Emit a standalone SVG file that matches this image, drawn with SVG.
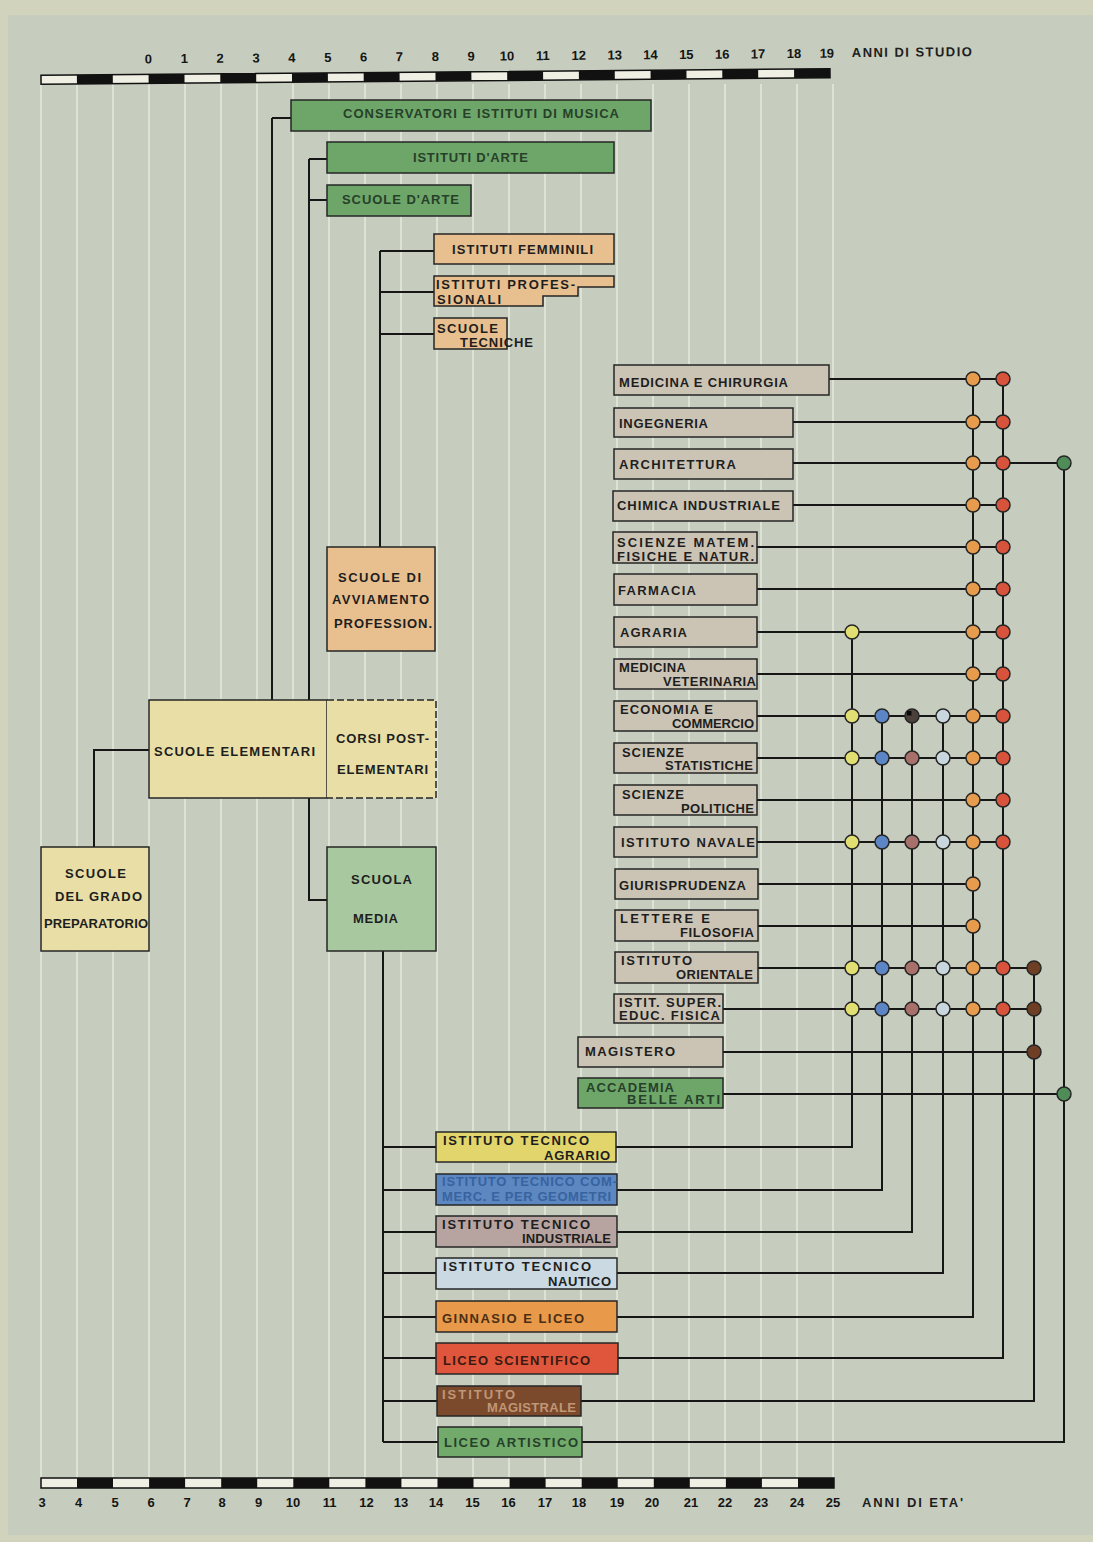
<svg xmlns="http://www.w3.org/2000/svg" width="1093" height="1542" viewBox="0 0 1093 1542">
<style>
.t{font-family:"Liberation Sans",Arial,sans-serif;font-weight:bold;font-size:13px;fill:#1e1e1e}
.n{font-family:"Liberation Sans",Arial,sans-serif;font-weight:bold;font-size:13px;fill:#151515;text-anchor:middle}
.tg{fill:#26402a}
.box{stroke:#262626;stroke-width:1.5}
.ln{stroke:#161616;stroke-width:2;fill:none}
.grid{stroke:#dce2d5;stroke-width:2}
.dot{stroke:#262626;stroke-width:1.5}
.green{fill:#6ea669}
.peach{fill:#e8bf8f}
.yel{fill:#e8dea6}
.uni{fill:#cbc4b5}
.dY{fill:#e2df72}.dB{fill:#5b85c4}.dM{fill:#a8706a}.dL{fill:#c8d6de}.dO{fill:#e69c4c}.dR{fill:#d8533c}.dBr{fill:#6e3f25}.dG{fill:#4f8c58}
</style>
<rect x="0" y="0" width="1093" height="1542" fill="#d2d3bd"/>
<rect x="8" y="15" width="1085" height="1520" fill="#c6cdbf"/>
<g id="grid">
<path class="grid" d="M41,84V1478M77,84V1478M113,84V1478M149,84V1478M185,84V1478M221,84V1478M257,84V1478M293,84V1478M329,84V1478M365,84V1478M401,84V1478M437,84V1478M473,84V1478M509,84V1478M545,84V1478M581,84V1478M617,84V1478M653,84V1478M689,84V1478M725,84V1478M761,84V1478M797,84V1478M833,84V1478"/>
</g>
<g id="scale-top" transform="rotate(-0.47 435 76.5)">
<rect x="41" y="72" width="789" height="9" fill="#f0efe4" stroke="#111" stroke-width="1.5"/>
<path fill="#111" d="M76.9,72h35.9v9h-35.9zM148.6,72h35.9v9h-35.9zM220.3,72h35.9v9h-35.9zM292,72h35.9v9h-35.9zM363.7,72h35.9v9h-35.9zM435.5,72h35.9v9h-35.9zM507.2,72h35.9v9h-35.9zM578.9,72h35.9v9h-35.9zM650.6,72h35.9v9h-35.9zM722.3,72h35.9v9h-35.9zM794.1,72h35.9v9h-35.9z"/>
<text class="n" y="61" x="148.6">0</text><text class="n" y="61" x="184.4">1</text><text class="n" y="61" x="220.3">2</text><text class="n" y="61" x="256.2">3</text><text class="n" y="61" x="292">4</text><text class="n" y="61" x="327.9">5</text><text class="n" y="61" x="363.7">6</text><text class="n" y="61" x="399.6">7</text><text class="n" y="61" x="435.5">8</text><text class="n" y="61" x="471.3">9</text><text class="n" y="61" x="507.2">10</text><text class="n" y="61" x="543">11</text><text class="n" y="61" x="578.9">12</text><text class="n" y="61" x="614.8">13</text><text class="n" y="61" x="650.6">14</text><text class="n" y="61" x="686.5">15</text><text class="n" y="61" x="722.3">16</text><text class="n" y="61" x="758.2">17</text><text class="n" y="61" x="794.1">18</text><text class="n" y="61" x="827">19</text>
<text class="t" x="852" y="60.5" textLength="120" lengthAdjust="spacing">ANNI DI STUDIO</text>
</g>
<g id="scale-bottom">
<rect x="41" y="1478" width="793" height="10" fill="#f0efe4" stroke="#111" stroke-width="1.5"/>
<path fill="#111" d="M77,1478h36v10h-36zM149.1,1478h36v10h-36zM221.2,1478h36v10h-36zM293.3,1478h36v10h-36zM365.4,1478h36v10h-36zM437.5,1478h36v10h-36zM509.6,1478h36v10h-36zM581.7,1478h36v10h-36zM653.8,1478h36v10h-36zM725.9,1478h36v10h-36zM798,1478h36v10h-36z"/>
<text class="n" y="1506.5" x="42">3</text><text class="n" y="1506.5" x="78.5">4</text><text class="n" y="1506.5" x="115">5</text><text class="n" y="1506.5" x="151">6</text><text class="n" y="1506.5" x="187">7</text><text class="n" y="1506.5" x="222">8</text><text class="n" y="1506.5" x="258.5">9</text><text class="n" y="1506.5" x="293">10</text><text class="n" y="1506.5" x="329.5">11</text><text class="n" y="1506.5" x="366.5">12</text><text class="n" y="1506.5" x="401">13</text><text class="n" y="1506.5" x="436">14</text><text class="n" y="1506.5" x="472.5">15</text><text class="n" y="1506.5" x="508.5">16</text><text class="n" y="1506.5" x="545">17</text><text class="n" y="1506.5" x="579">18</text><text class="n" y="1506.5" x="617">19</text><text class="n" y="1506.5" x="652">20</text><text class="n" y="1506.5" x="691">21</text><text class="n" y="1506.5" x="725">22</text><text class="n" y="1506.5" x="761">23</text><text class="n" y="1506.5" x="797">24</text><text class="n" y="1506.5" x="833">25</text>
<text class="t" x="862" y="1506.5" textLength="101" lengthAdjust="spacing">ANNI DI ETA'</text>
</g>
<g id="connectors">
<path class="ln" d="M272,118H291M272,118V700M309,159H327M309,200H327M309,159V700M380,251H434M380,292H434M380,334H434M380,251V547M149,750H94V847M309,798V900H327M383,951V1442M383,1147H436M383,1190H436M383,1232H436M383,1273H436M383,1317H436M383,1358H436M383,1401H437M383,1442H438"/>
<path class="ln" d="M616,1147H852V632M617,1190H882V716M617,1232H912V716M617,1273H943V716M617,1317H973V379M618,1358H1003V379M581,1401H1034V968M582,1442H1064V463"/>
<path class="ln" d="M829,379H1003M793,422H1003M793,463H1064M793,505H1003M757,547H1003M757,589H1003M757,632H1003M757,674H1003M757,716H1003M757,758H1003M757,800H1003M757,842H1003M758,884H973M758,926H973M758,968H1034M723,1009H1034M723,1052H1034M723,1094H1064"/>
</g>
<g id="n_conservatori"><rect class="box green" x="291" y="100" width="360" height="31"/><text class="t tg" x="343" y="118" textLength="276" lengthAdjust="spacing">CONSERVATORI E ISTITUTI DI MUSICA</text></g>
<g id="n_istituti_arte"><rect class="box green" x="327" y="142" width="287" height="31"/><text class="t tg" x="413" y="161.5" textLength="115" lengthAdjust="spacing">ISTITUTI D'ARTE</text></g>
<g id="n_scuole_arte"><rect class="box green" x="327" y="185" width="144" height="31"/><text class="t tg" x="342" y="204" textLength="117" lengthAdjust="spacing">SCUOLE D'ARTE</text></g>
<g id="n_femminili"><rect class="box peach" x="434" y="234" width="180" height="30"/><text class="t" x="452" y="253.5" textLength="141" lengthAdjust="spacing">ISTITUTI FEMMINILI</text></g>
<g id="n_professionali"><path class="box peach" d="M434,276H614V287H578V296H543V306H434Z"/><text class="t" x="436" y="288.5" textLength="139" lengthAdjust="spacing">ISTITUTI PROFES-</text><text class="t" x="437" y="303.5" textLength="64" lengthAdjust="spacing">SIONALI</text></g>
<g id="n_tecniche"><rect class="box peach" x="434" y="318" width="73" height="31"/><text class="t" x="437" y="332.5" textLength="61" lengthAdjust="spacing">SCUOLE</text><text class="t" x="460" y="346.5" textLength="73" lengthAdjust="spacing">TECNICHE</text></g>
<g id="n_avviamento"><rect class="box peach" x="327" y="547" width="108" height="104"/><text class="t" x="338" y="582" textLength="83" lengthAdjust="spacing">SCUOLE DI</text><text class="t" x="332" y="604" textLength="97" lengthAdjust="spacing">AVVIAMENTO</text><text class="t" x="334" y="628" textLength="98" lengthAdjust="spacing">PROFESSION.</text></g>
<g id="n_elementari"><rect class="box yel" x="149" y="700" width="178" height="98"/><text class="t" x="154" y="756" textLength="161" lengthAdjust="spacing">SCUOLE ELEMENTARI</text></g>
<g id="n_corsi"><rect class="yel" x="327" y="700" width="109" height="98"/><path d="M327,700H436V798H327" fill="none" stroke="#262626" stroke-width="1.5" stroke-dasharray="7,3"/><text class="t" x="336" y="742.5" textLength="93" lengthAdjust="spacing">CORSI POST-</text><text class="t" x="337" y="774" textLength="91" lengthAdjust="spacing">ELEMENTARI</text></g>
<g id="n_preparatorio"><rect class="box yel" x="41" y="847" width="108" height="104"/><text class="t" x="65" y="877.5" textLength="61" lengthAdjust="spacing">SCUOLE</text><text class="t" x="55" y="901" textLength="87" lengthAdjust="spacing">DEL GRADO</text><text class="t" x="44" y="927.5" textLength="104" lengthAdjust="spacing">PREPARATORIO</text></g>
<g id="n_media"><rect class="box" fill="#a8c89f" x="327" y="847" width="109" height="104"/><text class="t" x="351" y="884" textLength="61" lengthAdjust="spacing">SCUOLA</text><text class="t" x="353" y="923" textLength="45" lengthAdjust="spacing">MEDIA</text></g>
<g id="n_medicina"><rect class="box uni" x="614" y="365" width="215" height="30"/><text class="t" x="619" y="386.5" textLength="169" lengthAdjust="spacing">MEDICINA E CHIRURGIA</text></g>
<g id="n_ingegneria"><rect class="box uni" x="614" y="408" width="179" height="29"/><text class="t" x="619" y="428" textLength="89" lengthAdjust="spacing">INGEGNERIA</text></g>
<g id="n_architettura"><rect class="box uni" x="614" y="449" width="179" height="30"/><text class="t" x="619" y="469" textLength="117" lengthAdjust="spacing">ARCHITETTURA</text></g>
<g id="n_chimica"><rect class="box uni" x="613" y="491" width="180" height="30"/><text class="t" x="617" y="510" textLength="163" lengthAdjust="spacing">CHIMICA INDUSTRIALE</text></g>
<g id="n_scienze_matem"><rect class="box uni" x="613" y="532" width="144" height="31"/><text class="t" x="617" y="547" textLength="137" lengthAdjust="spacing">SCIENZE MATEM.</text><text class="t" x="617" y="561" textLength="137" lengthAdjust="spacing">FISICHE E NATUR.</text></g>
<g id="n_farmacia"><rect class="box uni" x="614" y="574" width="143" height="31"/><text class="t" x="618" y="595" textLength="78" lengthAdjust="spacing">FARMACIA</text></g>
<g id="n_agraria"><rect class="box uni" x="614" y="617" width="143" height="30"/><text class="t" x="620" y="637" textLength="67" lengthAdjust="spacing">AGRARIA</text></g>
<g id="n_veterinaria"><rect class="box uni" x="614" y="659" width="143" height="30"/><text class="t" x="619" y="672" textLength="67" lengthAdjust="spacing">MEDICINA</text><text class="t" x="663" y="686" textLength="93" lengthAdjust="spacing">VETERINARIA</text></g>
<g id="n_economia"><rect class="box uni" x="614" y="701" width="143" height="30"/><text class="t" x="620" y="713.5" textLength="93" lengthAdjust="spacing">ECONOMIA E</text><text class="t" x="672" y="727.5" textLength="82" lengthAdjust="spacing">COMMERCIO</text></g>
<g id="n_statistiche"><rect class="box uni" x="614" y="743" width="143" height="30"/><text class="t" x="622" y="756.5" textLength="62" lengthAdjust="spacing">SCIENZE</text><text class="t" x="665" y="769.5" textLength="88" lengthAdjust="spacing">STATISTICHE</text></g>
<g id="n_politiche"><rect class="box uni" x="614" y="785" width="143" height="30"/><text class="t" x="622" y="798.5" textLength="62" lengthAdjust="spacing">SCIENZE</text><text class="t" x="681" y="812.5" textLength="73" lengthAdjust="spacing">POLITICHE</text></g>
<g id="n_navale"><rect class="box uni" x="614" y="827" width="143" height="30"/><text class="t" x="621" y="847" textLength="134" lengthAdjust="spacing">ISTITUTO NAVALE</text></g>
<g id="n_giurisprudenza"><rect class="box uni" x="615" y="869" width="143" height="30"/><text class="t" x="619" y="890" textLength="127" lengthAdjust="spacing">GIURISPRUDENZA</text></g>
<g id="n_lettere"><rect class="box uni" x="615" y="910" width="143" height="31"/><text class="t" x="620" y="923" textLength="90" lengthAdjust="spacing">LETTERE E</text><text class="t" x="680" y="937" textLength="74" lengthAdjust="spacing">FILOSOFIA</text></g>
<g id="n_orientale"><rect class="box uni" x="615" y="952" width="143" height="31"/><text class="t" x="621" y="964.5" textLength="71" lengthAdjust="spacing">ISTITUTO</text><text class="t" x="676" y="978.5" textLength="77" lengthAdjust="spacing">ORIENTALE</text></g>
<g id="n_educ_fisica"><rect class="box uni" x="614" y="994" width="109" height="29"/><text class="t" x="619" y="1006.5" textLength="102" lengthAdjust="spacing">ISTIT. SUPER.</text><text class="t" x="619" y="1020" textLength="101" lengthAdjust="spacing">EDUC. FISICA</text></g>
<g id="n_magistero"><rect class="box uni" x="578" y="1037" width="145" height="30"/><text class="t" x="585" y="1055.5" textLength="90" lengthAdjust="spacing">MAGISTERO</text></g>
<g id="n_accademia"><rect class="box green" x="578" y="1078" width="145" height="30"/><text class="t tg" x="586" y="1091.5" textLength="88" lengthAdjust="spacing">ACCADEMIA</text><text class="t tg" x="627" y="1103.5" textLength="93" lengthAdjust="spacing">BELLE ARTI</text></g>
<g id="n_tec_agrario"><rect class="box" fill="#e2d56c" x="436" y="1132" width="180" height="30"/><text class="t" x="443" y="1145" textLength="146" lengthAdjust="spacing">ISTITUTO TECNICO</text><text class="t" x="544" y="1159.5" textLength="66" lengthAdjust="spacing">AGRARIO</text></g>
<g id="n_tec_commerciale"><rect class="box" fill="#5d87c0" x="436" y="1174" width="181" height="31"/><text class="t" style="fill:#3763a0" x="442" y="1186" textLength="175" lengthAdjust="spacing">ISTITUTO TECNICO COM-</text><text class="t" style="fill:#3763a0" x="442" y="1200.5" textLength="169" lengthAdjust="spacing">MERC. E PER GEOMETRI</text></g>
<g id="n_tec_industriale"><rect class="box" fill="#b7a4a0" x="436" y="1216" width="181" height="31"/><text class="t" x="442" y="1228.5" textLength="148" lengthAdjust="spacing">ISTITUTO TECNICO</text><text class="t" x="522" y="1242.5" textLength="89" lengthAdjust="spacing">INDUSTRIALE</text></g>
<g id="n_tec_nautico"><rect class="box" fill="#cad9e2" x="436" y="1258" width="181" height="31"/><text class="t" x="443" y="1271" textLength="148" lengthAdjust="spacing">ISTITUTO TECNICO</text><text class="t" x="548" y="1286" textLength="63" lengthAdjust="spacing">NAUTICO</text></g>
<g id="n_ginnasio"><rect class="box" fill="#e8994a" x="436" y="1301" width="181" height="31"/><text class="t" style="fill:#4a2e14" x="442" y="1323" textLength="142" lengthAdjust="spacing">GINNASIO E LICEO</text></g>
<g id="n_liceo_scientifico"><rect class="box" fill="#df563d" x="436" y="1343" width="182" height="31"/><text class="t" style="fill:#3a1a10" x="443" y="1365" textLength="147" lengthAdjust="spacing">LICEO SCIENTIFICO</text></g>
<g id="n_magistrale"><rect class="box" fill="#7b4a2c" x="437" y="1386" width="144" height="30"/><text class="t" style="fill:#c09676" x="442" y="1398.5" textLength="73" lengthAdjust="spacing">ISTITUTO</text><text class="t" style="fill:#c09676" x="487" y="1411.5" textLength="89" lengthAdjust="spacing">MAGISTRALE</text></g>
<g id="n_liceo_artistico"><rect class="box" fill="#72aa6c" x="438" y="1427" width="144" height="30"/><text class="t tg" x="444" y="1446.5" textLength="134" lengthAdjust="spacing">LICEO ARTISTICO</text></g>
<g id="dots">
<g class="dot dO"><circle cx="973" cy="379" r="7"/><circle cx="973" cy="422" r="7"/><circle cx="973" cy="463" r="7"/><circle cx="973" cy="505" r="7"/><circle cx="973" cy="547" r="7"/><circle cx="973" cy="589" r="7"/><circle cx="973" cy="632" r="7"/><circle cx="973" cy="674" r="7"/><circle cx="973" cy="716" r="7"/><circle cx="973" cy="758" r="7"/><circle cx="973" cy="800" r="7"/><circle cx="973" cy="842" r="7"/><circle cx="973" cy="884" r="7"/><circle cx="973" cy="926" r="7"/><circle cx="973" cy="968" r="7"/><circle cx="973" cy="1009" r="7"/></g>
<g class="dot dR"><circle cx="1003" cy="379" r="7"/><circle cx="1003" cy="422" r="7"/><circle cx="1003" cy="463" r="7"/><circle cx="1003" cy="505" r="7"/><circle cx="1003" cy="547" r="7"/><circle cx="1003" cy="589" r="7"/><circle cx="1003" cy="632" r="7"/><circle cx="1003" cy="674" r="7"/><circle cx="1003" cy="716" r="7"/><circle cx="1003" cy="758" r="7"/><circle cx="1003" cy="800" r="7"/><circle cx="1003" cy="842" r="7"/><circle cx="1003" cy="968" r="7"/><circle cx="1003" cy="1009" r="7"/></g>
<g class="dot dY"><circle cx="852" cy="632" r="7"/><circle cx="852" cy="716" r="7"/><circle cx="852" cy="758" r="7"/><circle cx="852" cy="842" r="7"/><circle cx="852" cy="968" r="7"/><circle cx="852" cy="1009" r="7"/></g>
<g class="dot dB"><circle cx="882" cy="716" r="7"/><circle cx="882" cy="758" r="7"/><circle cx="882" cy="842" r="7"/><circle cx="882" cy="968" r="7"/><circle cx="882" cy="1009" r="7"/></g>
<g class="dot dM"><circle cx="912" cy="758" r="7"/><circle cx="912" cy="842" r="7"/><circle cx="912" cy="968" r="7"/><circle cx="912" cy="1009" r="7"/></g>
<circle class="dot" fill="#4a403c" cx="912" cy="716" r="7"/><rect x="907" y="711" width="4.5" height="4.5" fill="#0a0a0a"/>
<g class="dot dL"><circle cx="943" cy="716" r="7"/><circle cx="943" cy="758" r="7"/><circle cx="943" cy="842" r="7"/><circle cx="943" cy="968" r="7"/><circle cx="943" cy="1009" r="7"/></g>
<g class="dot dBr"><circle cx="1034" cy="968" r="7"/><circle cx="1034" cy="1009" r="7"/><circle cx="1034" cy="1052" r="7"/></g>
<g class="dot dG"><circle cx="1064" cy="463" r="7"/><circle cx="1064" cy="1094" r="7"/></g>
</g>
</svg>
